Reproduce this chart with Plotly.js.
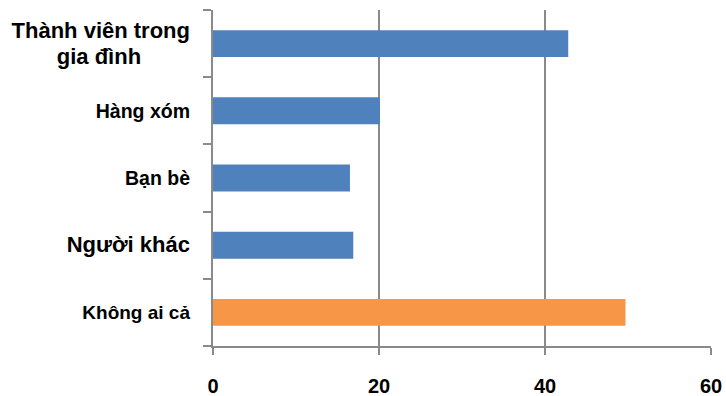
<!DOCTYPE html>
<html>
<head>
<meta charset="utf-8">
<script src="https://cdn.plot.ly/plotly-3.0.1.min.js"></script>
<style>
  html, body { margin: 0; padding: 0; background: #ffffff; }
  #chart { width: 726px; height: 396px; }
</style>
</head>
<body>
<div id="chart"></div>
<script>
// Answer groups, top to bottom
const categories = [
  "Thành viên trong gia đình",
  "Hàng xóm",
  "Bạn bè",
  "Người khác",
  "Không ai cả"
];
// Share of respondents per group
const values = [42.8, 20.1, 16.5, 16.9, 49.7];
// Axis tick values along the value axis
const xTicks = [0, 20, 40, 60];

// Display labels for the category axis (first one wraps on two lines,
// second line padded so it sits centred under the first)
const NB = "\u00A0";
const labelText = [
  '<span style="font-size:22px">Thành viên trong</span><br><span style="font-size:22px">gia đình' + NB.repeat(8) + '</span>',
  '<span style="font-size:19.5px">Hàng xóm</span>',
  '<span style="font-size:19.5px">Bạn bè</span>',
  '<span style="font-size:22px">Người khác</span>',
  '<span style="font-size:19px">Không ai cả</span>'
];

const BLUE = "#4F81BD";
const ORANGE = "#F79646";
const barColors = categories.map((c, i) => i === categories.length - 1 ? ORANGE : BLUE);
const GRID = "#8a8a8a";

const trace = {
  type: "bar",
  orientation: "h",
  x: values,
  y: categories,
  marker: { color: barColors, line: { width: 0 } },
  hoverinfo: "x+y"
};

const layout = {
  width: 726,
  height: 396,
  margin: { l: 213, r: 15, t: 10, b: 50 },
  paper_bgcolor: "#ffffff",
  plot_bgcolor: "#ffffff",
  showlegend: false,
  bargap: 0.6,
  font: { family: "Liberation Sans, Arial, sans-serif", color: "#000000" },
  xaxis: {
    range: [0, 60],
    tickvals: xTicks,
    ticktext: xTicks.map(String),
    showgrid: true,
    gridcolor: GRID,
    gridwidth: 2,
    zeroline: false,
    showline: true,
    linecolor: GRID,
    linewidth: 2,
    ticks: "outside",
    ticklen: 7,
    tickwidth: 2,
    tickcolor: GRID,
    ticklabelstandoff: 14,
    tickfont: { size: 20, weight: "bold", color: "#000000" },
    fixedrange: true
  },
  yaxis: {
    type: "category",
    categoryorder: "array",
    categoryarray: categories,
    autorange: "reversed",
    tickvals: categories,
    ticktext: labelText,
    showgrid: false,
    zeroline: false,
    showline: true,
    linecolor: GRID,
    linewidth: 2,
    ticks: "outside",
    tickson: "boundaries",
    ticklen: 8,
    tickwidth: 2,
    tickcolor: GRID,
    ticklabelstandoff: 17,
    tickfont: { size: 20, weight: "bold", color: "#000000" },
    fixedrange: true
  }
};

Plotly.newPlot("chart", [trace], layout, { displayModeBar: false, staticPlot: true });
</script>
</body>
</html>
